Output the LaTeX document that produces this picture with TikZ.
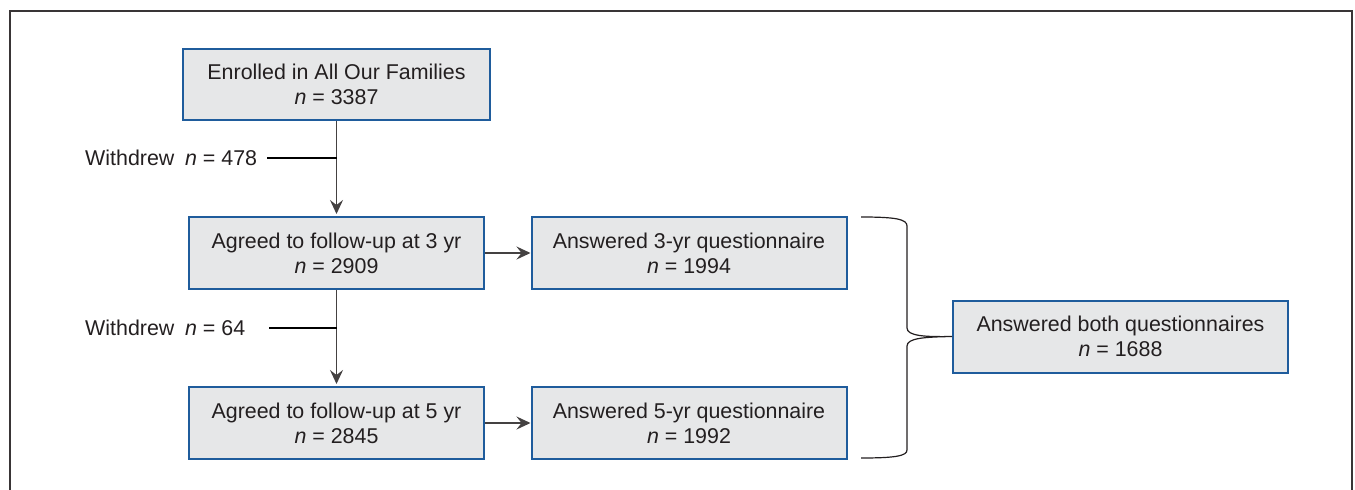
\documentclass[tikz,border=0pt]{standalone}
\usepackage{fontspec}
\setmainfont{Liberation Sans}
\usetikzlibrary{arrows.meta}
\definecolor{boxfill}{HTML}{E6E7E8}
\definecolor{boxline}{HTML}{1F5C9C}
\definecolor{ink}{HTML}{231F20}
\tikzset{
  box/.style={draw=boxline, line width=2pt, fill=boxfill, align=center, text=ink,
    font=\fontsize{21.4}{25}\selectfont, inner sep=0pt},
  conn/.style={draw=ink!85, line width=1.4pt, -{Stealth[length=14pt,width=13pt,inset=5pt]}},
  wline/.style={draw=black, line width=2pt},
  lbl/.style={text=ink, font=\fontsize{21.4}{25}\selectfont, inner sep=0pt},
  brace/.style={draw=ink, line width=1.2pt},
  frame/.style={draw=ink!90, line width=1.5pt}
}
\begin{document}
\begin{tikzpicture}[x=1pt,y=-1pt]
\useasboundingbox (0,0) rectangle (1355,490);
\draw[frame] (10,490) -- (10,11) -- (1352,11) -- (1352,490);

\node[box, minimum width=307, minimum height=71] (en) at (336.5,84.5) {Enrolled in All Our Families\\\textit{n} = 3387};
\node[box, minimum width=295, minimum height=72] (a3) at (336.5,253) {Agreed to follow-up at 3 yr\\\textit{n} = 2909};
\node[box, minimum width=295, minimum height=72] (a5) at (336.5,423) {Agreed to follow-up at 5 yr\\\textit{n} = 2845};
\node[box, minimum width=315, minimum height=72] (q3) at (689,253) {Answered 3-yr questionnaire\\\textit{n} = 1994};
\node[box, minimum width=315, minimum height=72] (q5) at (689,423) {Answered 5-yr questionnaire\\\textit{n} = 1992};
\node[box, minimum width=335, minimum height=72] (both) at (1120.5,336.5) {Answered both questionnaires\\\textit{n} = 1688};

\node[lbl, anchor=west] (w1) at (85,158) {Withdrew\enspace\textit{n} = 478};
\node[lbl, anchor=west] (w2) at (85,328) {Withdrew\enspace\textit{n} = 64};

\draw[conn, shorten >=2pt] (en.south) -- (a3.north);
\draw[conn, shorten >=2pt] (a3.south) -- (a5.north);
\draw[conn] (a3.east) -- (q3.west);
\draw[conn] (a5.east) -- (q5.west);

\draw[wline] ([xshift=10pt]w1.east) -- (en.south |- w1.east);
\draw[wline] ([xshift=24pt]w2.east) -- (a3.south |- w2.east);

\coordinate (bt) at (861,217);
\coordinate (bb) at (861,458);
\draw[brace] (bt) .. controls (895,217) and (907,219) .. (907,226)
  -- (907,328) .. controls (907,336) and (925,337) .. (both.west)
  .. controls (925,337) and (907,338) .. (907,346)
  -- (907,450) .. controls (907,456) and (895,458) .. (bb);
\end{tikzpicture}
\end{document}
